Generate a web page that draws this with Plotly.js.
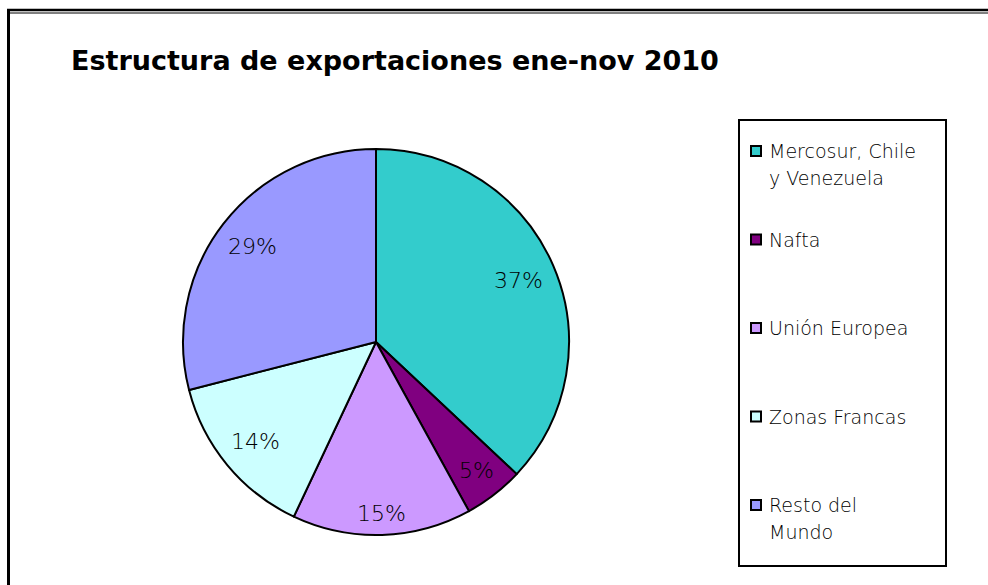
<!DOCTYPE html>
<html>
<head>
<meta charset="utf-8">
<script src="https://cdn.plot.ly/plotly-3.0.1.min.js"></script>
<style>html,body{margin:0;padding:0;background:#fff;}#chart{width:988px;height:585px;}</style>
</head>
<body>
<div id="chart"></div>
<script>
// ---- data ----
var titleText = "Estructura de exportaciones ene-nov 2010";
var categories = ["Mercosur, Chile<br>y Venezuela", "Nafta", "Unión Europea", "Zonas Francas", "Resto del<br>Mundo"];
var shares = [37, 5, 15, 14, 29];
var sliceColors = ["#33CCCC", "#800080", "#CC99FF", "#CCFFFF", "#9999FF"];

// ---- layout helpers (pixel -> paper) ----
var W = 988, H = 585;
function px(x) { return x / W; }
function py(y) { return 1 - y / H; }

var FONT = "DejaVu Sans, Verdana, sans-serif";

// pie placement (pixels)
var pieLeft = 183, pieRight = 569, pieTop = 149, pieBottom = 535;
var cx = (pieLeft + pieRight) / 2, cy0 = (pieTop + pieBottom) / 2;
var R = Math.min(pieRight - pieLeft, pieBottom - pieTop) / 2;

var shapes = [
  // outer frame
  {type: "line", xref: "paper", yref: "paper", x0: px(7), x1: px(988), y0: py(10), y1: py(10), line: {color: "#000", width: 2.5}},
  {type: "line", xref: "paper", yref: "paper", x0: px(10), x1: px(988), y0: py(13), y1: py(13), line: {color: "#000", width: 1}},
  {type: "line", xref: "paper", yref: "paper", x0: px(8.5), x1: px(8.5), y0: py(9), y1: py(585), line: {color: "#000", width: 3}},
  // legend box
  {type: "rect", xref: "paper", yref: "paper", x0: px(739), x1: px(946), y0: py(120), y1: py(566), line: {color: "#000", width: 2}, fillcolor: "rgba(0,0,0,0)"}
];

var annotations = [
  {text: "<b>" + titleText + "</b>", xref: "paper", yref: "paper", x: px(69), y: py(61), xanchor: "left", yanchor: "middle", showarrow: false, font: {family: FONT, size: 27, color: "#000"}}
];

// legend (built from categories / colours)
var legTop = 151, legStep = 88.5, lineGap = 27;
categories.forEach(function (cat, i) {
  var cy = legTop + legStep * i;
  shapes.push({type: "rect", xref: "paper", yref: "paper", x0: px(751), x1: px(761), y0: py(cy - 5), y1: py(cy + 5), line: {color: "#000", width: 2}, fillcolor: sliceColors[i]});
  cat.split("<br>").forEach(function (ln, j) {
    annotations.push({text: ln, xref: "paper", yref: "paper", x: px(767), y: py(cy + j * lineGap), xanchor: "left", yanchor: "middle", showarrow: false, font: {family: FONT, size: 19, color: "#000", weight: 200}});
  });
});

// percentage labels: best-fit inside the slice near its outer edge
var total = shares.reduce(function (a, b) { return a + b; }, 0);
var LBL = 22, cum = 0;
shares.forEach(function (v, i) {
  var pct = Math.round(v / total * 100) + "%";
  var mid = (cum + v / 2) / total * 2 * Math.PI;
  cum += v;
  var hw = ((pct.length - 1) * 0.636 + 0.95) * LBL / 2, hh = 9;
  var s = Math.sin(mid), c = Math.cos(mid);
  var d = (R - 12) - (hw * Math.abs(s) + hh * Math.abs(c));
  annotations.push({text: pct, xref: "paper", yref: "paper", x: px(cx + d * s), y: py(cy0 - d * c), xanchor: "center", yanchor: "middle", showarrow: false, font: {family: FONT, size: LBL, color: "#000", weight: 200}});
});

var trace = {
  type: "pie",
  values: shares,
  labels: categories,
  sort: false,
  direction: "clockwise",
  rotation: 0,
  marker: {colors: sliceColors, line: {color: "#000", width: 2}},
  textinfo: "none",
  hoverinfo: "label+percent",
  showlegend: false,
  domain: {x: [px(pieLeft), px(pieRight)], y: [py(pieBottom), py(pieTop)]}
};

var layout = {
  width: W, height: H,
  margin: {l: 0, r: 0, t: 0, b: 0},
  paper_bgcolor: "#fff",
  showlegend: false,
  shapes: shapes,
  annotations: annotations
};

Plotly.newPlot("chart", [trace], layout, {displayModeBar: false, staticPlot: true});
</script>
</body>
</html>
